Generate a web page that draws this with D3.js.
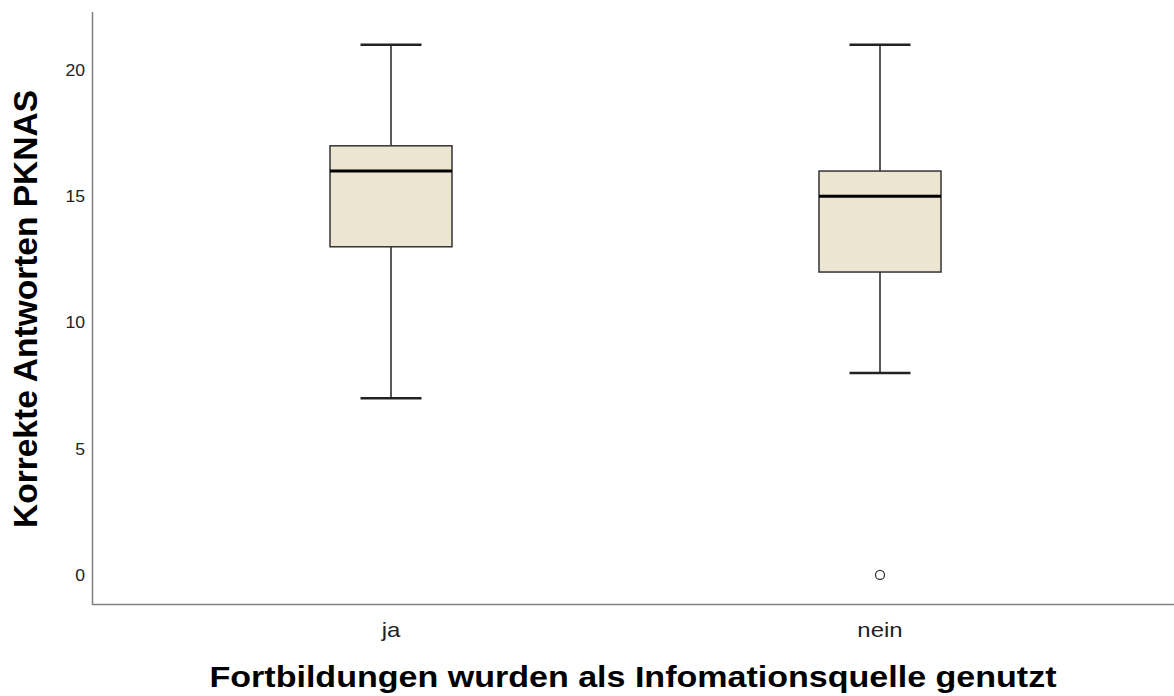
<!DOCTYPE html>
<html>
<head>
<meta charset="utf-8">
<script src="https://cdn.jsdelivr.net/npm/d3@7"></script>
<style>
  body { margin: 0; background: #fff; }
  text { font-family: "Liberation Sans", Arial, sans-serif; }
</style>
</head>
<body>
<script>
var width = 1174;
var height = 696;

// data
var categories = ["ja", "nein"];
var whiskerLow = [7, 8];
var q1 = [13, 12];
var median = [16, 15];
var q3 = [17, 16];
var whiskerHigh = [21, 21];
var outliers = [[], [0]];
var yTicks = [0, 5, 10, 15, 20];

var svg = d3.select("body").append("svg")
    .attr("width", width)
    .attr("height", height);

var x = d3.scalePoint()
    .domain(categories)
    .range([391, 880]);

var y = d3.scaleLinear()
    .domain([-1.15, 22.3])
    .range([604, 12]);

var boxW = 122;
var capW = 61;

// axes lines
svg.append("line")
    .attr("x1", 92.5).attr("x2", 92.5)
    .attr("y1", y.range()[1]).attr("y2", 604.5)
    .attr("stroke", "#808080").attr("stroke-width", 1.5);
svg.append("line")
    .attr("x1", 92).attr("x2", width)
    .attr("y1", 604.5).attr("y2", 604.5)
    .attr("stroke", "#808080").attr("stroke-width", 1.5);

// y tick labels (source text is a bit wider than Liberation)
svg.selectAll(".ytick")
    .data(yTicks)
  .enter().append("text")
    .attr("class", "ytick")
    .attr("transform", function(d) { return "translate(85," + y(d) + ") scale(1.1,1)"; })
    .attr("dy", "0.36em")
    .attr("text-anchor", "end")
    .style("font-size", "16px")
    .style("fill", "#222")
    .text(function(d) { return d; });

// x category labels
svg.selectAll(".xtick")
    .data(categories)
  .enter().append("text")
    .attr("class", "xtick")
    .attr("transform", function(d) { return "translate(" + x(d) + ",637) scale(1.2,1)"; })
    .attr("text-anchor", "middle")
    .style("font-size", "20px")
    .style("fill", "#222")
    .text(function(d) { return d; });

// axis titles
svg.append("text")
    .attr("x", 633)
    .attr("y", 687)
    .attr("text-anchor", "middle")
    .attr("textLength", 847)
    .attr("lengthAdjust", "spacingAndGlyphs")
    .style("font-size", "29px")
    .style("font-weight", "bold")
    .text("Fortbildungen wurden als Infomationsquelle genutzt");

svg.append("text")
    .attr("transform", "translate(37,309) rotate(-90)")
    .attr("text-anchor", "middle")
    .style("font-size", "33.5px")
    .style("font-weight", "bold")
    .text("Korrekte Antworten PKNAS");

// boxes
var g = svg.selectAll(".box")
    .data(categories)
  .enter().append("g")
    .attr("class", "box");

g.append("line")
    .attr("x1", function(d) { return x(d); })
    .attr("x2", function(d) { return x(d); })
    .attr("y1", function(d, i) { return y(whiskerHigh[i]); })
    .attr("y2", function(d, i) { return y(whiskerLow[i]); })
    .attr("stroke", "#222").attr("stroke-width", 1.5);

g.append("rect")
    .attr("x", function(d) { return x(d) - boxW / 2; })
    .attr("width", boxW)
    .attr("y", function(d, i) { return y(q3[i]); })
    .attr("height", function(d, i) { return y(q1[i]) - y(q3[i]); })
    .attr("fill", "#ebe5d1")
    .attr("stroke", "#333").attr("stroke-width", 1.5);

g.append("line")
    .attr("x1", function(d) { return x(d) - boxW / 2; })
    .attr("x2", function(d) { return x(d) + boxW / 2; })
    .attr("y1", function(d, i) { return y(median[i]); })
    .attr("y2", function(d, i) { return y(median[i]); })
    .attr("stroke", "#000").attr("stroke-width", 3);

[whiskerHigh, whiskerLow].forEach(function(arr) {
  g.append("line")
      .attr("x1", function(d) { return x(d) - capW / 2; })
      .attr("x2", function(d) { return x(d) + capW / 2; })
      .attr("y1", function(d, i) { return y(arr[i]); })
      .attr("y2", function(d, i) { return y(arr[i]); })
      .attr("stroke", "#222").attr("stroke-width", 2.5);
});

g.each(function(d, i) {
  d3.select(this).selectAll("circle")
      .data(outliers[i])
    .enter().append("circle")
      .attr("cx", x(d))
      .attr("cy", function(v) { return y(v); })
      .attr("r", 4.5)
      .attr("fill", "none")
      .attr("stroke", "#333").attr("stroke-width", 1.3);
});
</script>
</body>
</html>
